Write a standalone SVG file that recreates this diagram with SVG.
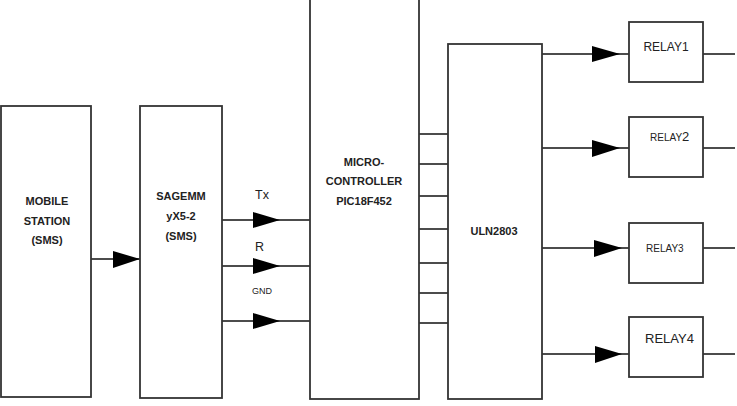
<svg xmlns="http://www.w3.org/2000/svg" width="737" height="406" viewBox="0 0 737 406">
<defs>
<style>
.box{fill:#fff;stroke:#333;stroke-width:1.8}
.ln{stroke:#111;stroke-width:1.5;fill:none}
.ah{fill:#000}
.b{font-family:"Liberation Sans",Arial,sans-serif;font-weight:bold;font-size:11px;fill:#222;text-anchor:middle}
.t{font-family:"Liberation Sans",Arial,sans-serif;fill:#222}
</style>
</defs>
<rect width="737" height="406" fill="#fff"/>
<g id="connectors">
<line class="ln" x1="91" y1="259" x2="140" y2="259"/>
<polygon class="ah" points="113,251 140,259 113,268"/>
<line class="ln" x1="222" y1="220" x2="310" y2="220"/>
<polygon class="ah" points="253,212 280,220 253,228"/>
<line class="ln" x1="222" y1="266" x2="310" y2="266"/>
<polygon class="ah" points="253,258 280,266 253,274"/>
<line class="ln" x1="222" y1="321" x2="310" y2="321"/>
<polygon class="ah" points="253,313 280,321 253,329"/>
<line class="ln" x1="419" y1="134" x2="448" y2="134"/>
<line class="ln" x1="419" y1="164" x2="448" y2="164"/>
<line class="ln" x1="419" y1="196" x2="448" y2="196"/>
<line class="ln" x1="419" y1="229" x2="448" y2="229"/>
<line class="ln" x1="419" y1="263" x2="448" y2="263"/>
<line class="ln" x1="419" y1="293" x2="448" y2="293"/>
<line class="ln" x1="419" y1="323" x2="448" y2="323"/>
<line class="ln" x1="542" y1="54" x2="629" y2="54"/>
<polygon class="ah" points="592,46 620,54 592,62"/>
<line class="ln" x1="542" y1="148" x2="629" y2="148"/>
<polygon class="ah" points="592,140 620,148 592,157"/>
<line class="ln" x1="542" y1="248" x2="629" y2="248"/>
<polygon class="ah" points="594,240 622,248 594,257"/>
<line class="ln" x1="542" y1="354" x2="629" y2="354"/>
<polygon class="ah" points="595,346 622,354 595,363"/>
<line class="ln" x1="703" y1="54" x2="735" y2="54"/>
<line class="ln" x1="703" y1="148" x2="735" y2="148"/>
<line class="ln" x1="703" y1="248" x2="735" y2="248"/>
<line class="ln" x1="703" y1="354" x2="735" y2="354"/>
<text class="t" x="255" y="199" font-size="12.5">Tx</text>
<text class="t" x="255" y="251" font-size="12.5">R</text>
<text class="t" x="252" y="294" font-size="9">GND</text>
</g>
<g id="mobile">
<rect class="box" x="1" y="106" width="90" height="291"/>
<text class="b" x="47" y="205">MOBILE</text>
<text class="b" x="47" y="225">STATION</text>
<text class="b" x="47" y="244">(SMS)</text>
</g>
<g id="sagem">
<rect class="box" x="140" y="106" width="82" height="292"/>
<text class="b" x="181" y="200">SAGEMM</text>
<text class="b" x="181" y="220">yX5-2</text>
<text class="b" x="181" y="240">(SMS)</text>
</g>
<g id="micro">
<rect class="box" x="310" y="-3" width="109" height="402"/>
<text class="b" x="364" y="166">MICRO-</text>
<text class="b" x="364" y="185">CONTROLLER</text>
<text class="b" x="364" y="205">PIC18F452</text>
</g>
<g id="uln">
<rect class="box" x="448" y="44" width="94" height="355"/>
<text class="b" x="494" y="235">ULN2803</text>
</g>
<g id="relay1">
<rect class="box" x="629" y="22" width="74" height="60"/>
<text class="t" x="666" y="51" font-size="12" text-anchor="middle">RELAY1</text>
</g>
<g id="relay2">
<rect class="box" x="629" y="117" width="74" height="60"/>
<text class="t" x="650" y="141" font-size="10">RELAY<tspan font-size="13">2</tspan></text>
</g>
<g id="relay3">
<rect class="box" x="629" y="223" width="74" height="60"/>
<text class="t" x="646" y="252" font-size="10">RELAY3</text>
</g>
<g id="relay4">
<rect class="box" x="629" y="317" width="74" height="60"/>
<text class="t" x="645" y="343" font-size="13">RELAY4</text>
</g>
</svg>
